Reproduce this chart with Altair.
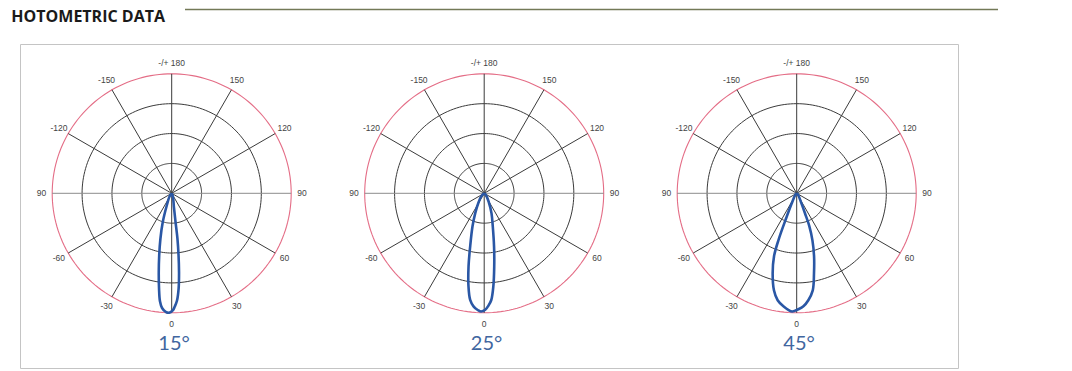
import math
import altair as alt
import pandas as pd

# ---------------- data ----------------
heading = "HOTOMETRIC DATA"
beam_names = ["15°", "25°", "45°"]

ring_radii = [0.25, 0.5, 0.75, 1.0]
spoke_angles = [0, 30, 60, 90, 120, 150, 180, 210, 240, 270, 300, 330]
label_angles = [180, 150, 120, 90, 60, 30, 0, -30, -60, -90, -120, -150]
label_texts = ["-/+ 180", "150", "120", "90", "60", "30", "0", "-30", "-60", "90", "-120", "-150"]

# relative intensity vs. angle (deg), 0 = straight down, + to the right
angles_15 = [-90, -35, -22, -17.2, -13.9, -11.4, -9.3, -7.6, -6.2, -4.8, -2.9, -1.2, 0.5, 1.5, 2.8, 4.2, 5.3, 6.3, 7.2, 7.6, 9, 20, 90]
intensity_15 = [0, 0.03, 0.11, 0.254, 0.394, 0.529, 0.67, 0.802, 0.909, 0.963, 0.993, 1.0, 0.98, 0.95, 0.9, 0.795, 0.664, 0.522, 0.385, 0.245, 0.12, 0.03, 0]

angles_25 = [-90, -45, -32, -24.2, -19.5, -14.8, -12.1, -9.6, -7.5, -5.4, -3, -1.5, 0.5, 2.2, 3.8, 5.6, 7.8, 10.5, 14.5, 20, 28, 45, 90]
intensity_25 = [0, 0.03, 0.09, 0.184, 0.293, 0.459, 0.625, 0.789, 0.9, 0.95, 0.98, 0.99, 0.975, 0.94, 0.895, 0.783, 0.618, 0.452, 0.287, 0.179, 0.08, 0.02, 0]

angles_45 = [-90, -40, -26, -23, -21.3, -19.8, -16.7, -13.2, -10.1, -6.7, -2.2, 0.8, 3.4, 6.2, 9.4, 12.2, 15.4, 18.5, 21, 22.5, 26, 40, 90]
intensity_45 = [0, 0.02, 0.10, 0.22, 0.42, 0.56, 0.70, 0.834, 0.909, 0.952, 0.99, 0.97, 0.947, 0.90, 0.823, 0.685, 0.547, 0.415, 0.296, 0.181, 0.08, 0.02, 0]

beams = [(angles_15, intensity_15), (angles_25, intensity_25), (angles_45, intensity_45)]

# ---------------- layout ----------------
PX = 119.5                 # pixels per unit radius
VIEW_W, VIEW_H = 938, 324
STEP = 312.5 / PX          # distance between polar centres (units)
X0 = -151.7 / PX
Y1 = 149.3 / PX
x_dom = [X0, X0 + VIEW_W / PX]
y_dom = [Y1 - VIEW_H / PX, Y1]
LABEL_R = 1.09
TITLE_Y = -(350 - 193.3) / PX


def pol(p, r, a):
    t = math.radians(a)
    return p * STEP + r * math.sin(t), -r * math.cos(t)


ring_rows = []
for p in range(3):
    for r in ring_radii:
        for i, a in enumerate(range(0, 361, 2)):
            x, y = pol(p, r, a)
            ring_rows.append({"x": x, "y": y, "key": f"{p}-{r}", "idx": i,
                              "outer": "outer" if r == 1.0 else "inner"})
rings = pd.DataFrame(ring_rows)

spoke_rows = []
for p in range(3):
    for a in spoke_angles:
        x0, y0 = pol(p, 0, a)
        x1, y1 = pol(p, 1.0, a)
        spoke_rows.append({"x": x0, "y": y0, "x2": x1, "y2": y1,
                           "kind": "h" if a in (90, 270) else "s"})
spokes = pd.DataFrame(spoke_rows)

lobe_rows = []
for p, (angs, vals) in enumerate(beams):
    for i, (a, v) in enumerate(zip(angs, vals)):
        x, y = pol(p, v, a)
        lobe_rows.append({"x": x, "y": y, "beam": beam_names[p], "idx": i})
lobes = pd.DataFrame(lobe_rows)

lab_rows = []
for p in range(3):
    for a, t in zip(label_angles, label_texts):
        x, y = pol(p, LABEL_R, a)
        lab_rows.append({"x": x, "y": y, "t": t})
labels = pd.DataFrame(lab_rows)

titles = pd.DataFrame({"x": [p * STEP + 0.02 for p in range(3)],
                       "y": [TITLE_Y] * 3, "t": beam_names})

xs = alt.Scale(domain=x_dom, nice=False, zero=False)
ys = alt.Scale(domain=y_dom, nice=False, zero=False)
X = lambda f="x": alt.X(f"{f}:Q", scale=xs, axis=None)
Y = lambda f="y": alt.Y(f"{f}:Q", scale=ys, axis=None)

inner = alt.Chart(rings).transform_filter(alt.datum.outer == "inner").mark_line(
    color="#3b3b3b", strokeWidth=1).encode(x=X(), y=Y(), detail="key:N", order=alt.Order("idx:Q"))
outer = alt.Chart(rings).transform_filter(alt.datum.outer == "outer").mark_line(
    color="#e46d86", strokeWidth=1.1).encode(x=X(), y=Y(), detail="key:N", order=alt.Order("idx:Q"))

spoke_layer = alt.Chart(spokes).mark_rule(strokeWidth=1).encode(
    x=X(), y=Y(), x2="x2:Q", y2="y2:Q",
    color=alt.Color("kind:N", scale=alt.Scale(domain=["s", "h"], range=["#3b3b3b", "#8c8c8c"]), legend=None))

lobe_layer = alt.Chart(lobes).mark_line(
    color="#2a57a5", strokeWidth=2.6, interpolate="catmull-rom").encode(
    x=X(), y=Y(), detail="beam:N", order=alt.Order("idx:Q"))

label_layer = alt.Chart(labels).mark_text(
    font="Liberation Sans", fontSize=8.5, color="#444444", align="center", baseline="middle").encode(
    x=X(), y=Y(), text="t:N")

title_layer = alt.Chart(titles).mark_text(
    font="Lato", fontSize=20, color="#4166a0", align="center", baseline="alphabetic").encode(
    x=X(), y=Y(), text="t:N")

head_df = pd.DataFrame({"t": [heading]})
head_text = alt.Chart(head_df).mark_text(
    font="Open Sans", fontWeight="bold", fontSize=16, color="#1a1a1a", align="right", baseline="middle").encode(
    x=alt.value(145), y=alt.value(-27), text="t:N")
head_rule = alt.Chart(head_df).mark_rule(color="#737957", strokeWidth=1.6).encode(
    x=alt.value(165), x2=alt.value(978), y=alt.value(-34.5))

chart = alt.layer(inner, outer, spoke_layer, lobe_layer, label_layer, title_layer, head_text, head_rule).properties(
    width=VIEW_W, height=VIEW_H,
    padding={"left": 12, "top": 36, "right": 106, "bottom": 3},
    autosize=alt.AutoSizeParams(type="none"),
).configure_view(stroke="#c4c4c4", strokeWidth=1)

chart.save("out.html", embed_options={"renderer": "svg", "actions": False})
